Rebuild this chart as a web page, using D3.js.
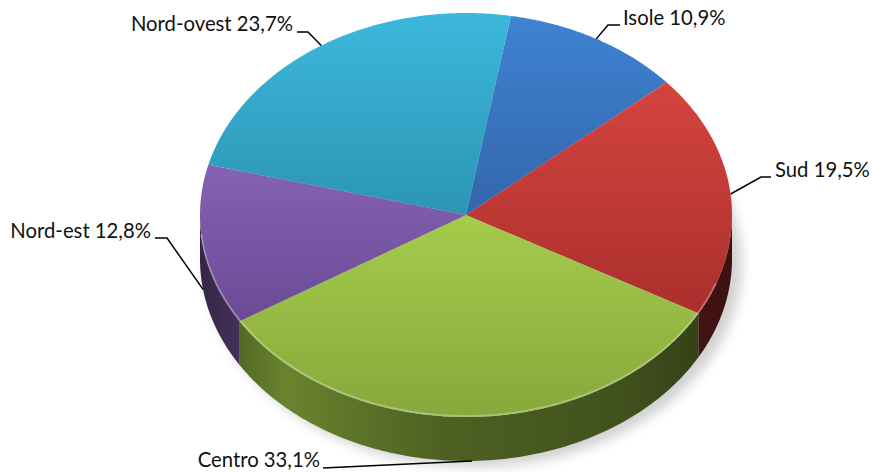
<!DOCTYPE html>
<html>
<head>
<meta charset="utf-8">
<script src="https://cdn.jsdelivr.net/npm/d3@7"></script>
<style>
  html, body { margin: 0; padding: 0; background: #fff; }
  svg { display: block; }
</style>
</head>
<body>
<svg id="chart" width="872" height="472"></svg>
<script>
// ---- data ----
const categories = ["Isole", "Sud", "Centro", "Nord-est", "Nord-ovest"];
const values = [10.9, 19.5, 33.1, 12.8, 23.7];
const topLight = ["#3f83d3", "#d5443f", "#a5cc4c", "#8562b3", "#3cb8dc"];
const topDark  = ["#3366ab", "#aa2f2d", "#87a83b", "#6a4b95", "#2c95b3"];
const sideBase = ["#3366ab", "#c43a36", "#9bc244", "#7d5aa6", "#2c95b3"];

// ---- layout ----
const W = 872, H = 472;
const cx = 466, cy = 215, rx = 266, ry = 202, depth = 44;
const startDeg = 9.7;
// label layout: text anchor position and leader elbow offset
const labelLayout = [
  { tx: 623, ty: 25,  anchor: "start", hx: 620, elbow: [608, 25] },
  { tx: 775, ty: 177, anchor: "start", hx: 771, elbow: [761, 177] },
  { tx: 320, ty: 467, anchor: "end",   hx: 323, elbow: null },
  { tx: 151, ty: 238, anchor: "end",   hx: 155, elbow: [167, 238] },
  { tx: 293, ty: 31,  anchor: "end",   hx: 297, elbow: [308, 32] }
];

const svg = d3.select("#chart");
const defs = svg.append("defs");

const a0 = startDeg * Math.PI / 180;
const pie = d3.pie().sort(null).value(d => d).startAngle(a0).endAngle(a0 + 2 * Math.PI);
const arcs = pie(values);

const px = t => cx + rx * Math.sin(t);
const py = t => cy - ry * Math.cos(t);

function arcPts(s, e, dy) {
  const n = Math.max(4, Math.ceil(Math.abs(e - s) / 0.01));
  return d3.range(n + 1).map(i => {
    const t = s + (e - s) * i / n;
    return [px(t), py(t) + dy];
  });
}
const line = d3.line();

// shadow filter
const f = defs.append("filter").attr("id", "blur").attr("x", "-20%").attr("y", "-20%").attr("width", "140%").attr("height", "140%");
f.append("feGaussianBlur").attr("stdDeviation", 6);

// gradients
arcs.forEach((a, i) => {
  const g = defs.append("linearGradient").attr("id", "top" + i)
    .attr("x1", 0).attr("y1", 0).attr("x2", 0).attr("y2", 1);
  g.append("stop").attr("offset", 0).attr("stop-color", topLight[i]);
  g.append("stop").attr("offset", 1).attr("stop-color", topDark[i]);

  const base = d3.rgb(sideBase[i]);
  const sg = defs.append("linearGradient").attr("id", "side" + i)
    .attr("gradientUnits", "userSpaceOnUse")
    .attr("x1", cx - rx).attr("y1", 0).attr("x2", cx + rx).attr("y2", 0);
  [[0, 0.42], [0.1, 0.58], [0.16, 0.68], [0.45, 0.5], [0.8, 0.42], [1, 0.3]].forEach(([o, k]) => {
    sg.append("stop").attr("offset", o)
      .attr("stop-color", d3.rgb(base.r * k, base.g * k, base.b * k).formatHex());
  });
});

// soft shadow
svg.append("ellipse")
  .attr("cx", cx + 8).attr("cy", cy + depth + 4)
  .attr("rx", rx + 2).attr("ry", ry + 2)
  .attr("fill", "#000").attr("opacity", 0.18)
  .attr("filter", "url(#blur)");

// side faces (front half: angles between PI/2 and 3PI/2)
const gSide = svg.append("g");
arcs.forEach((a, i) => {
  const s = Math.max(a.startAngle, Math.PI / 2);
  const e = Math.min(a.endAngle, 3 * Math.PI / 2);
  if (e <= s) return;
  const topP = arcPts(s, e, 0);
  const botP = arcPts(e, s, depth);
  gSide.append("path")
    .attr("d", line(topP.concat(botP)) + "Z")
    .attr("fill", `url(#side${i})`);
});

// top faces
const gTop = svg.append("g");
arcs.forEach((a, i) => {
  const pts = [[cx, cy]].concat(arcPts(a.startAngle, a.endAngle, 0));
  gTop.append("path")
    .attr("d", line(pts) + "Z")
    .attr("fill", `url(#top${i})`);
});

// rim highlight along the front edge of the top face
arcs.forEach((a, i) => {
  const s = Math.max(a.startAngle, Math.PI / 2 + 0.35);
  const e = Math.min(a.endAngle, 3 * Math.PI / 2 - 0.1);
  if (e <= s) return;
  gTop.append("path")
    .attr("d", line(arcPts(s, e, -1)))
    .attr("fill", "none")
    .attr("stroke", "#fff").attr("stroke-opacity", 0.28)
    .attr("stroke-width", 2);
});

// labels and leaders
const fmt = v => d3.format(".1f")(v).replace(".", ",") + "%";
const gLab = svg.append("g");
arcs.forEach((a, i) => {
  const L = labelLayout[i];
  const mid = (a.startAngle + a.endAngle) / 2;
  let m = mid % (2 * Math.PI);
  const front = m > Math.PI / 2 && m < 3 * Math.PI / 2;
  const ex = px(mid), ey = py(mid) + (front ? depth : 0);
  const pts = [[L.hx, L.elbow ? L.elbow[1] : L.ty + 1]];
  if (L.elbow) pts.push(L.elbow);
  pts.push([ex, ey]);
  gLab.append("path")
    .attr("d", line(pts))
    .attr("fill", "none").attr("stroke", "#000").attr("stroke-width", 1.5);
  gLab.append("text")
    .attr("x", L.tx).attr("y", L.ty)
    .attr("text-anchor", L.anchor)
    .attr("font-family", "Lato, 'Open Sans', sans-serif")
    .attr("font-size", 20.3)
    .attr("fill", "#111")
    .text(categories[i] + " " + fmt(values[i]));
});
</script>
</body>
</html>
